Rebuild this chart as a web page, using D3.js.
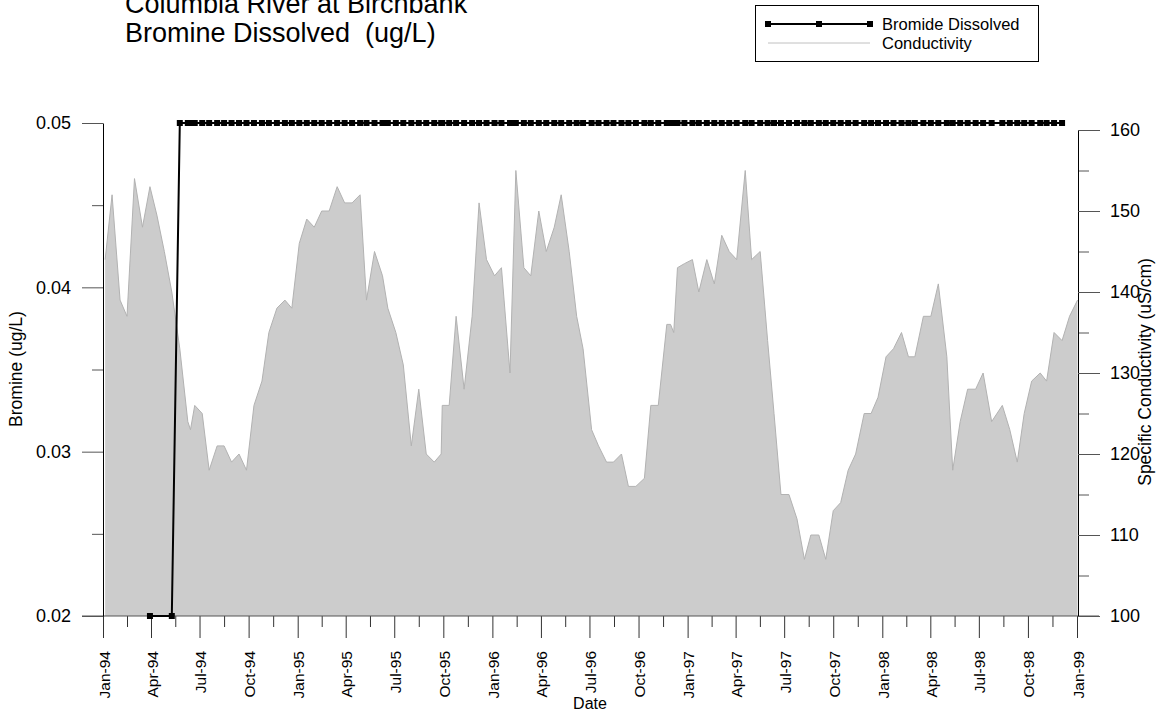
<!DOCTYPE html>
<html>
<head>
<meta charset="utf-8">
<script src="https://cdn.jsdelivr.net/npm/d3@7"></script>
<style>
  body { margin: 0; background: #fff; }
  svg { display: block; font-family: Arial, "Liberation Sans", sans-serif; }
  .pre { white-space: pre; }
</style>
</head>
<body>
<svg width="1159" height="713"></svg>
<script>
// sampling dates (roughly every two weeks)
let sampleDates = [
  "1994-01-05","1994-01-18","1994-02-02","1994-02-15","1994-03-01","1994-03-16","1994-03-30","1994-04-12","1994-04-26","1994-05-10",
  "1994-05-25","1994-06-09","1994-06-14","1994-06-22","1994-07-06","1994-07-19","1994-08-03","1994-08-16","1994-08-30","1994-09-13",
  "1994-09-27","1994-10-11","1994-10-26","1994-11-08","1994-11-23","1994-12-08","1994-12-21","1995-01-04","1995-01-18","1995-02-01",
  "1995-02-15","1995-03-01","1995-03-16","1995-03-30","1995-04-13","1995-04-28","1995-05-10","1995-05-25","1995-06-09","1995-06-19",
  "1995-07-04","1995-07-18","1995-08-02","1995-08-16","1995-08-30","1995-09-14","1995-09-27","1995-09-29","1995-10-12","1995-10-25",
  "1995-11-09","1995-11-24","1995-12-07","1995-12-21","1996-01-05","1996-01-18","1996-02-03","1996-02-14","1996-02-29","1996-03-13",
  "1996-03-28","1996-04-11","1996-04-26","1996-05-09","1996-05-24","1996-06-07","1996-06-19","1996-07-05","1996-07-18","1996-08-02",
  "1996-08-15","1996-08-30","1996-09-12","1996-09-26","1996-10-12","1996-10-24","1996-11-07","1996-11-23","1996-11-30","1996-12-06",
  "1996-12-13","1996-12-26","1997-01-10","1997-01-22","1997-02-06","1997-02-20","1997-03-06","1997-03-20","1997-04-03","1997-04-19",
  "1997-05-01","1997-05-17","1997-05-31","1997-06-12","1997-06-25","1997-07-10","1997-07-25","1997-08-08","1997-08-20","1997-09-04",
  "1997-09-17","1997-10-01","1997-10-15","1997-10-29","1997-11-12","1997-11-28","1997-12-11","1997-12-24","1998-01-08","1998-01-22",
  "1998-02-06","1998-02-19","1998-03-03","1998-03-19","1998-04-02","1998-04-16","1998-05-02","1998-05-13","1998-05-27","1998-06-10",
  "1998-06-25","1998-07-09","1998-07-25","1998-08-14","1998-08-28","1998-09-11","1998-09-24","1998-10-08","1998-10-24","1998-11-05",
  "1998-11-19","1998-12-04","1998-12-18","1999-01-02"
];

// specific conductivity (uS/cm)
let conductivity = [
  144,152,139,137,154,148,153,149.5,145,140,
  133,124,123,126,125,118,121,121,119,120,
  118,126,129,135,138,139,138,146,149,148,
  150,150,153,151,151,152,139,145,142,138,
  135,131,121,128,120,119,120,126,126,137,
  128,137,151,144,142,143,130,155,143,142,
  150,145,148,152,145,137,133,123,121,119,
  119,120,116,116,117,126,126,136,136,135,
  143,143.5,144,140,144,141,147,145,144,155,
  144,145,134,125,115,115,112,107,110,110,
  107,113,114,118,120,125,125,127,132,133,
  135,132,132,137,137,141,132,118,124,128,
  128,130,124,126,123,119,125,129,130,129,
  135,134,137,139
];

// bromide dissolved (ug/L), null = not sampled
let bromide = [
  null,null,null,null,null,null,0.02,null,null,0.02,
  0.05,0.05,0.05,0.05,0.05,0.05,0.05,0.05,0.05,0.05,
  0.05,0.05,0.05,0.05,0.05,0.05,0.05,0.05,0.05,0.05,
  0.05,0.05,0.05,0.05,0.05,0.05,0.05,0.05,0.05,0.05,
  0.05,0.05,0.05,0.05,0.05,0.05,0.05,0.05,0.05,0.05,
  0.05,0.05,0.05,0.05,0.05,0.05,0.05,0.05,0.05,0.05,
  0.05,0.05,0.05,0.05,0.05,0.05,0.05,0.05,0.05,0.05,
  0.05,0.05,0.05,0.05,0.05,0.05,0.05,0.05,0.05,0.05,
  0.05,0.05,0.05,0.05,0.05,0.05,0.05,0.05,0.05,0.05,
  0.05,0.05,0.05,0.05,0.05,0.05,0.05,0.05,0.05,0.05,
  0.05,0.05,0.05,0.05,0.05,0.05,0.05,0.05,0.05,0.05,
  0.05,0.05,0.05,0.05,0.05,0.05,0.05,0.05,0.05,0.05,
  0.05,0.05,0.05,0.05,0.05,0.05,0.05,0.05,0.05,0.05,
  0.05,0.05,null,null
];

let dateRange = ["1994-01-01", "1999-01-01"];
let brDomain = [0.02, 0.05];
let brTicks = [0.02, 0.03, 0.04, 0.05];
let brMinor = [0.025, 0.035, 0.045];
let condDomain = [100, 160];
let condTicks = [100, 110, 120, 130, 140, 150, 160];
let condMinor = [105, 115, 125, 135, 145, 155];

let titleLines = ["Columbia River at Birchbank", "Bromine Dissolved  (ug/L)"];
let legendNames = ["Bromide Dissolved", "Conductivity"];

let $svg = d3.select("svg");
let parse = d3.timeParse("%Y-%m-%d");

let dados = sampleDates.map((d, i) => ({ date: parse(d), c: conductivity[i], b: bromide[i] }));

let left = 103, right = 1077, bottom = 616;

let x = d3.scaleTime()
  .domain(dateRange.map(parse))
  .range([left, right]);

let yBr = d3.scaleLinear().domain(brDomain).range([bottom, 123]);
let yCond = d3.scaleLinear().domain(condDomain).range([bottom, 130]);

// conductivity area
let area = d3.area()
  .x(d => x(d.date))
  .y0(yCond(condDomain[0]))
  .y1(d => yCond(d.c));

$svg.append("path")
  .datum(dados)
  .attr("d", area)
  .attr("fill", "#cccccc");

$svg.append("path")
  .datum(dados)
  .attr("d", d3.line().x(d => x(d.date)).y(d => yCond(d.c)))
  .attr("fill", "none")
  .attr("stroke", "#b2b2b2")
  .attr("stroke-width", 1);

// x axis
let quarters = d3.timeMonth.every(3).range(x.domain()[0], d3.timeDay.offset(x.domain()[1], 1));
let meios = quarters.slice(1).map((q, i) => new Date((+q + +quarters[i]) / 2));

let $xMinor = $svg.append("g")
  .attr("transform", `translate(0,${bottom})`)
  .call(d3.axisBottom(x).tickValues(meios).tickSize(11).tickFormat("").tickSizeOuter(0));
$xMinor.select(".domain").remove();
$xMinor.selectAll("line").attr("stroke", "#333");

let $xAxis = $svg.append("g")
  .attr("transform", `translate(0,${bottom})`)
  .call(d3.axisBottom(x).tickValues(quarters).tickSize(22).tickSizeOuter(0).tickFormat(d3.timeFormat("%b-%y")));
$xAxis.select(".domain").remove();
$xAxis.selectAll("line").attr("stroke", "#333");
$xAxis.selectAll("text")
  .attr("transform", "rotate(-90)")
  .attr("text-anchor", "end")
  .attr("x", -35)
  .attr("y", 6)
  .attr("dy", 0)
  .attr("font-size", 15.5)
  .attr("font-family", null)
  .attr("fill", "#000");

// bottom line
$svg.append("line")
  .attr("x1", left - 21).attr("x2", right + 22)
  .attr("y1", bottom).attr("y2", bottom)
  .attr("stroke", "#555");

// left axis
let $yMinor = $svg.append("g")
  .attr("transform", `translate(${left},0)`)
  .call(d3.axisLeft(yBr).tickValues(brMinor).tickSize(11).tickFormat("").tickSizeOuter(0));
$yMinor.select(".domain").remove();
$yMinor.selectAll("line").attr("stroke", "#555");

let $yAxis = $svg.append("g")
  .attr("transform", `translate(${left},0)`)
  .call(d3.axisLeft(yBr).tickValues(brTicks).tickSize(21).tickPadding(11).tickSizeOuter(0).tickFormat(d3.format(".2f")));
$yAxis.select(".domain").attr("stroke", "#000");
$yAxis.selectAll("line").attr("stroke", "#555");
$yAxis.selectAll("text").attr("font-size", 18).attr("font-family", null).attr("fill", "#000");

// right axis
let $rMinor = $svg.append("g")
  .attr("transform", `translate(${right + 1},0)`)
  .call(d3.axisRight(yCond).tickValues(condMinor).tickSize(11).tickFormat("").tickSizeOuter(0));
$rMinor.select(".domain").remove();
$rMinor.selectAll("line").attr("stroke", "#555");

let $rAxis = $svg.append("g")
  .attr("transform", `translate(${right + 1},0)`)
  .call(d3.axisRight(yCond).tickValues(condTicks).tickSize(22).tickPadding(10).tickSizeOuter(0));
$rAxis.select(".domain").attr("stroke", "#000");
$rAxis.selectAll("line").attr("stroke", "#555");
$rAxis.selectAll("text").attr("font-size", 18).attr("font-family", null).attr("fill", "#000");

// bromide line + markers
let brPts = dados.filter(d => d.b != null);

$svg.append("path")
  .datum(brPts)
  .attr("d", d3.line().x(d => x(d.date)).y(d => yBr(d.b)))
  .attr("fill", "none")
  .attr("stroke", "#000")
  .attr("stroke-width", 2);

$svg.selectAll("rect.marca").data(brPts)
  .enter()
  .append("rect")
  .classed("marca", true)
  .attr("x", d => x(d.date) - 3)
  .attr("y", d => yBr(d.b) - 3)
  .attr("width", 6)
  .attr("height", 6)
  .attr("fill", "#000");

// axis titles
$svg.append("text")
  .attr("transform", "translate(22,369) rotate(-90)")
  .attr("text-anchor", "middle")
  .attr("font-size", 17.5)
  .text("Bromine (ug/L)");

$svg.append("text")
  .attr("transform", "translate(1151,372) rotate(-90)")
  .attr("text-anchor", "middle")
  .attr("font-size", 17.5)
  .text("Specific Conductivity (uS/cm)");

$svg.append("text")
  .attr("x", (left + right) / 2)
  .attr("y", 709)
  .attr("text-anchor", "middle")
  .attr("font-size", 16)
  .text("Date");

// title
$svg.selectAll("text.titulo").data(titleLines)
  .enter()
  .append("text")
  .classed("titulo", true)
  .classed("pre", true)
  .attr("x", 125)
  .attr("y", (d, i) => 13 + i * 29)
  .attr("font-size", 27)
  .text(d => d);

// legend
let $leg = $svg.append("g");
$leg.append("rect")
  .attr("x", 755.5).attr("y", 5.5)
  .attr("width", 283).attr("height", 56)
  .attr("fill", "#fff").attr("stroke", "#000");

$leg.append("line")
  .attr("x1", 768).attr("x2", 870).attr("y1", 24).attr("y2", 24)
  .attr("stroke", "#000").attr("stroke-width", 2);
[768, 819, 870].forEach(px => {
  $leg.append("rect")
    .attr("x", px - 3).attr("y", 21).attr("width", 6).attr("height", 6)
    .attr("fill", "#000");
});
$leg.append("line")
  .attr("x1", 768).attr("x2", 870).attr("y1", 43).attr("y2", 43)
  .attr("stroke", "#c0c0c0").attr("stroke-width", 1);

$leg.selectAll("text").data(legendNames)
  .enter()
  .append("text")
  .attr("x", 882)
  .attr("y", (d, i) => 24 + i * 19)
  .attr("dy", "0.35em")
  .attr("font-size", 16.5)
  .text(d => d);
</script>
</body>
</html>
